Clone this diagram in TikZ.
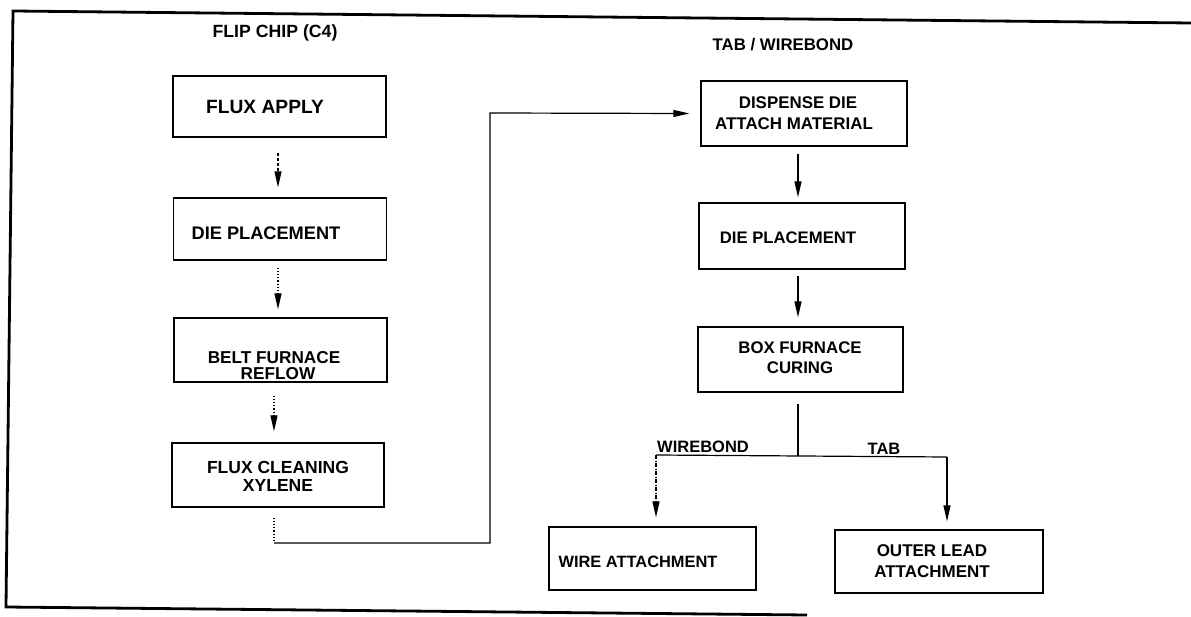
\documentclass[tikz,border=0pt]{standalone}
\usepackage{fontspec}
\setmainfont{Liberation Sans}
\usetikzlibrary{arrows.meta}
\begin{document}
\begin{tikzpicture}[x=1pt,y=-1pt,
  box/.style={draw, line width=1.3pt, minimum width=#1, minimum height=63pt, inner sep=0pt},
  box/.default=207pt,
  lbl/.style={font=\bfseries\fontsize{17}{20}\selectfont, inner sep=0pt, align=center},
  sublbl/.style={font=\bfseries\fontsize{16.5}{20}\selectfont, inner sep=0pt},
  tip/.style={-{Triangle[length=16pt,width=7pt]}},
  conn/.style={line width=1.2pt},
  dashy/.style={dash pattern=on 3pt off 2pt},
  dotty/.style={dash pattern=on 1.2pt off 2pt},
  dashdotty/.style={dash pattern=on 4pt off 1.5pt on 1pt off 1.5pt}]
\useasboundingbox (0,0) rectangle (1191,617);
% frame
\draw[line width=2.8pt, line join=miter] (1191,23) -- (13,11) -- (6,607) -- (807,615);

% titles
\node[lbl, font=\bfseries\fontsize{17.7}{20}\selectfont] (t1) at (275,33) {FLIP CHIP (C4)};
\node[lbl, font=\bfseries\fontsize{16.8}{20}\selectfont] (t2) at (783,45) {TAB / WIREBOND};

% left column
\node[box=213pt, minimum height=61pt] (fa) at (279.5,106.5) {};
\node[lbl, font=\bfseries\fontsize{19.2}{20}\selectfont] (fat) at (265,107) {FLUX APPLY};
\node[box=213pt, minimum height=62pt] (dp1) at (280,229) {};
\node[lbl, font=\bfseries\fontsize{18.2}{20}\selectfont] (dp1t) at (266,233) {DIE PLACEMENT};
\node[box=213pt, minimum height=64pt] (bf) at (280.5,350) {};
\node[lbl, font=\bfseries\fontsize{17.2}{16}\selectfont] (bft) at (274,366) {BELT FURNACE\\\hspace*{8pt}REFLOW};
\node[box=212pt, minimum height=64pt] (fc) at (278,475) {};
\node[lbl, font=\bfseries\fontsize{17.5}{18}\selectfont] (fct) at (278,476) {FLUX CLEANING\\XYLENE};

% right column
\node[box=206pt, minimum height=65pt] (dd) at (804,113.5) {};
\node[lbl, font=\bfseries\fontsize{16.9}{21}\selectfont] (ddt) at (794,113) {\hspace*{8pt}DISPENSE DIE\\ATTACH MATERIAL};
\node[box=206pt, minimum height=66pt] (dp2) at (802,236) {};
\node[lbl, font=\bfseries\fontsize{16.7}{20}\selectfont] (dp2t) at (788,238) {DIE PLACEMENT};
\node[box=205pt, minimum height=65pt] (bx) at (800.5,359.5) {};
\node[lbl, font=\bfseries\fontsize{16.8}{20}\selectfont] (bxt) at (800,358) {BOX FURNACE\\CURING};
\node[box=207pt, minimum height=63pt] (wa) at (652.5,558.5) {};
\node[lbl, font=\bfseries\fontsize{16.4}{20}\selectfont] (wat) at (638,562) {WIRE ATTACHMENT};
\node[box=208pt, minimum height=63pt] (ol) at (939,561.5) {};
\node[lbl, font=\bfseries\fontsize{17}{21}\selectfont] (olt) at (932,561) {OUTER LEAD\\ATTACHMENT};

% left column connectors
\draw[conn, dashy, tip] ([xshift=-1.5pt,yshift=-15pt]fa.south) -- ([xshift=-2pt,yshift=10pt]dp1.north);
\draw[conn, dotty, tip] ([xshift=-2pt,yshift=-7pt]dp1.south) -- ([xshift=-2.5pt,yshift=8pt]bf.north);
\draw[conn, dotty, tip] ([xshift=-6.5pt,yshift=-13pt]bf.south) -- ([xshift=-4pt,yshift=11pt]fc.north);

% link to right column
\coordinate (c1) at (274,543);
\coordinate (c2) at (490,543);
\coordinate (c3) at (490,113);
\draw[conn, dotty] ([xshift=-4pt,yshift=-10pt]fc.south) -- (c1);
\draw[conn, tip] (c1) -- (c2) -- (c3) -- ([xshift=-11pt]dd.west);

% right column connectors
\draw[conn, tip] ([xshift=-6pt,yshift=-7pt]dd.south) -- ([xshift=-4pt,yshift=5pt]dp2.north);
\draw[conn, tip] ([xshift=-4pt,yshift=-6pt]dp2.south) -- ([xshift=-2.5pt,yshift=9pt]bx.north);

\coordinate (j) at (798,456);
\coordinate (wl) at (656,455);
\coordinate (tr) at (947,457);
\draw[conn] ([xshift=-2.5pt,yshift=-11pt]bx.south) -- (j);
\draw[conn] (wl) -- (tr);
\draw[conn, tip] (tr) -- ([xshift=8pt,yshift=8pt]ol.north);
\draw[conn, dashdotty, tip] (wl) -- ([xshift=3.5pt,yshift=9pt]wa.north);

\node[sublbl, anchor=south west] (wb) at (657,453) {WIREBOND};
\node[sublbl, anchor=south] (tab) at (884,455) {TAB};
\end{tikzpicture}
\end{document}
